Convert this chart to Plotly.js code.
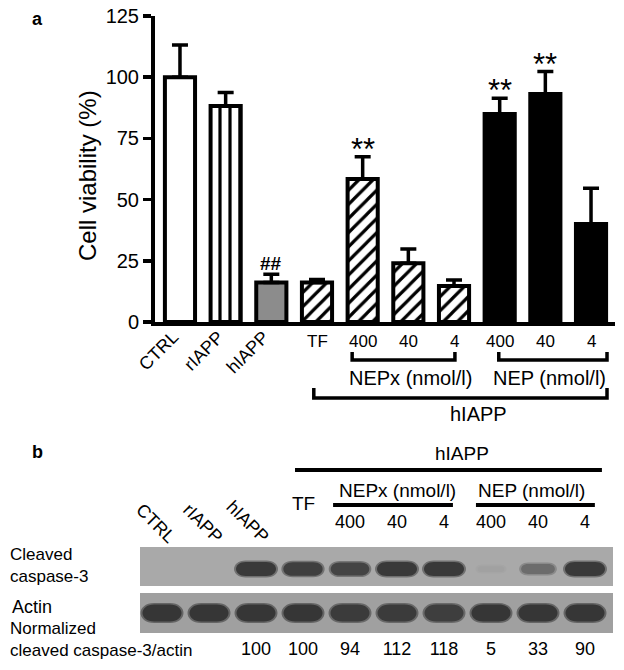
<!DOCTYPE html>
<html>
<head>
<meta charset="utf-8">
<script src="https://cdn.plot.ly/plotly-3.0.1.min.js"></script>
<style>
  body { margin: 0; background: #fff; }
  #chart { width: 624px; height: 670px; }
</style>
</head>
<body>
<div id="chart"></div>
<script>
// panel a: cell viability
const groups = ['CTRL', 'rIAPP', 'hIAPP', 'TF', '400', '40', '4', '400', '40', '4']
const viability = [100, 88.2, 16.1, 16.1, 58.4, 24.0, 14.7, 85.0, 93.1, 40.0]
const semUp = [13.2, 5.6, 3.4, 1.3, 9.1, 5.8, 2.5, 6.4, 9.2, 14.6]
const marks = ['', '', '##', '', '**', '', '', '**', '**', '']

// panel b: western blot
const lanes = ['CTRL', 'rIAPP', 'hIAPP', 'TF', '400', '40', '4', '400', '40', '4']
const caspaseBand = [0, 0, 1, 0.95, 0.9, 1, 1, 0.07, 0.55, 1]
const actinBand = [1, 1, 1, 1, 0.95, 0.95, 0.92, 1, 1, 1]
const normalized = [null, null, 100, 100, 94, 112, 118, 5, 33, 90]

// bar styles: which bars share a look
const styles = [
    { bars: [0], color: 'white', hatch: '' },
    { bars: [1], color: 'white', hatch: '|' },
    { bars: [2], color: '#8c8c8c', hatch: '' },
    { bars: [3, 4, 5, 6], color: 'white', hatch: '/' },
    { bars: [7, 8, 9], color: 'black', hatch: '' },
]

const W = 624, H = 670
const py = v => 1 - v / H
const LANE = 47 // px between blot lanes
const font = 'Liberation Sans, Arial, sans-serif'

function mix(a, b, t) {
    const pa = [1, 3, 5].map(i => parseInt(a.substr(i, 2), 16))
    const pb = [1, 3, 5].map(i => parseInt(b.substr(i, 2), 16))
    const c = pa.map((v, i) => Math.round(v + (pb[i] - v) * t))
    return `rgb(${c.join(',')})`
}

function capsule(xc, yc, hw, hh) {
    const r = Math.min(hh * 1.4 / LANE, hw)
    const x0 = xc - hw, x1 = xc + hw, y0 = yc - hh, y1 = yc + hh
    const k = r / 3
    return `M${x0 + r},${y0} L${x1 - r},${y0} C${x1 + k},${y0} ${x1 + k},${y1} ${x1 - r},${y1} ` +
        `L${x0 + r},${y1} C${x0 - k},${y1} ${x0 - k},${y0} ${x0 + r},${y0} Z`
}

const traces = styles.map(s => ({
    type: 'bar',
    x: s.bars,
    y: s.bars.map(i => viability[i]),
    xaxis: 'x', yaxis: 'y',
    marker: {
        color: s.color,
        line: { color: 'black', width: 4 },
        pattern: s.hatch ? { shape: s.hatch, fgcolor: 'black', bgcolor: 'white', size: 10, solidity: 0.32, fillmode: 'replace' } : { shape: '' }
    },
    error_y: {
        type: 'data', symmetric: false,
        array: s.bars.map(i => semUp[i]), arrayminus: s.bars.map(() => 0),
        color: 'black', thickness: 3.5, width: 8
    },
    hoverinfo: 'skip'
}))

const laneIdx = lanes.map((_, i) => i).filter(i => normalized[i] !== null)
traces.push({
    type: 'scatter', mode: 'text',
    x: laneIdx, y: laneIdx.map(() => 650),
    text: laneIdx.map(i => String(normalized[i])),
    textfont: { size: 18, color: 'black' },
    xaxis: 'x2', yaxis: 'y2',
    hoverinfo: 'skip'
})

const shapes = []
const annotations = []

// brackets under panel a
function bracket(a, b, yTop, yLine, ref) {
    shapes.push({
        type: 'path', xref: ref, yref: 'paper',
        path: `M${a},${py(yTop)} L${a},${py(yLine)} L${b},${py(yLine)} L${b},${py(yTop)}`,
        line: { color: 'black', width: 3.5 }
    })
}
bracket(3.77, 6.02, 352, 360, 'x')
bracket(6.98, 9.35, 352, 360, 'x')
bracket(2.93, 9.35, 388, 398, 'x')

// blot header lines
function hline(a, b, y) {
    shapes.push({ type: 'line', xref: 'x2', yref: 'y2', x0: a, x1: b, y0: y, y1: y, line: { color: 'black', width: 4 } })
}
hline(2.83, 9.36, 470)
hline(3.64, 6.19, 505)
hline(6.68, 9.21, 505)

// blot strips
const blotL = (140 - 162) / LANE, blotR = (613 - 162) / LANE
const casBg = '#a9a9a9', actBg = '#a0a0a0', dark = '#2a2a2a'
shapes.push({ type: 'rect', xref: 'x2', yref: 'y2', x0: blotL, x1: blotR, y0: 547, y1: 586, fillcolor: casBg, line: { width: 0 }, layer: 'below' })
shapes.push({ type: 'rect', xref: 'x2', yref: 'y2', x0: blotL, x1: blotR, y0: 593, y1: 633, fillcolor: actBg, line: { width: 0 }, layer: 'below' })

caspaseBand.forEach((t, i) => {
    if (!t) return
    const hw = (13 + 7 * t) / LANE, hh = 2.5 + 4.5 * t
    shapes.push({ type: 'path', xref: 'x2', yref: 'y2', path: capsule(i, 569, hw + 2 / LANE, hh + 1.5), fillcolor: mix(casBg, dark, 0.45 * t), line: { width: 0 } })
    shapes.push({ type: 'path', xref: 'x2', yref: 'y2', path: capsule(i, 569, hw, hh), fillcolor: mix(casBg, dark, 0.88 * t), line: { width: 0 } })
})
actinBand.forEach((t, i) => {
    const hw = 19.5 / LANE, hh = 8.5
    shapes.push({ type: 'path', xref: 'x2', yref: 'y2', path: capsule(i, 613, hw + 2 / LANE, hh + 1.5), fillcolor: mix(actBg, dark, 0.5 * t), line: { width: 0 } })
    shapes.push({ type: 'path', xref: 'x2', yref: 'y2', path: capsule(i, 613, hw, hh), fillcolor: mix(actBg, dark, 0.9 * t), line: { width: 0 } })
})

function note(text, x, y, opts) {
    annotations.push(Object.assign({
        text: text, x: x, y: y, xref: 'paper', yref: 'paper', showarrow: false,
        xanchor: 'center', yanchor: 'middle', font: { size: 18, color: 'black' }
    }, opts || {}))
}

// panel a texts
note('<b>a</b>', 37 / W, py(19), { font: { size: 18 } })
note('Cell viability (%)', 87 / W, py(176), { textangle: -90, font: { size: 24 } })
marks.forEach((m, i) => {
    if (!m) return
    const star = m === '**'
    note(star ? m : '<b>' + m + '</b>', i, viability[i] + semUp[i] + (star ? 3 : 4.5),
        { xref: 'x', yref: 'y', font: { size: star ? 31 : 19 } })
})
groups.forEach((g, i) => {
    if (i < 3) {
        note(g, i + 0.1, py(324), { xref: 'x', textangle: -45, xanchor: 'right', yanchor: 'top', font: { size: 18 } })
    } else {
        note(g, i, py(341), { xref: 'x', font: { size: 17 } })
    }
})
note('NEPx (nmol/l)', 5.04, py(378), { xref: 'x', font: { size: 20 } })
note('NEP (nmol/l)', 8.1, py(378), { xref: 'x', font: { size: 20 } })
note('hIAPP', 6.53, py(414), { xref: 'x', font: { size: 20 } })

// panel b texts
note('<b>b</b>', 37 / W, py(452), { font: { size: 18 } })
note('hIAPP', 6.38, 453, { xref: 'x2', yref: 'y2', font: { size: 19 } })
note('NEPx (nmol/l)', 5.0, 490, { xref: 'x2', yref: 'y2', font: { size: 19 } })
note('NEP (nmol/l)', 7.87, 490, { xref: 'x2', yref: 'y2', font: { size: 19 } })
lanes.forEach((l, i) => {
    if (i < 3) {
        note(l, i + 0.42, 550, { xref: 'x2', yref: 'y2', textangle: 45, xanchor: 'right', yanchor: 'bottom', font: { size: 18 } })
    } else if (i === 3) {
        note(l, i, 503, { xref: 'x2', yref: 'y2', font: { size: 19 } })
    } else {
        note(l, i, 522, { xref: 'x2', yref: 'y2', font: { size: 18 } })
    }
})
note('Cleaved<br>caspase-3', 8 / W, py(565), { xanchor: 'left', align: 'left', font: { size: 17 } })
note('Actin', 10 / W, py(607), { xanchor: 'left' })
note('Normalized<br>cleaved caspase-3/actin', 8 / W, py(639), { xanchor: 'left', align: 'left', font: { size: 17 } })

const layout = {
    width: W, height: H,
    margin: { l: 0, r: 0, t: 0, b: 0 },
    paper_bgcolor: 'white', plot_bgcolor: 'rgba(0,0,0,0)',
    font: { family: font, color: 'black' },
    showlegend: false,
    barmode: 'overlay',
    bargap: 0.34,
    xaxis: {
        domain: [155 / W, 615 / W], range: [-0.547, 9.525], anchor: 'y',
        showticklabels: false, ticks: '', showgrid: false, zeroline: false,
        showline: true, linecolor: 'black', linewidth: 4
    },
    yaxis: {
        domain: [py(322), py(16)], range: [0, 125], anchor: 'x',
        tickvals: [0, 25, 50, 75, 100, 125], ticks: 'outside', ticklen: 8, tickwidth: 3.5, tickcolor: 'black',
        tickfont: { size: 20 }, showgrid: false, zeroline: false,
        showline: true, linecolor: 'black', linewidth: 4
    },
    xaxis2: { domain: [0, 1], range: [-162 / LANE, (W - 162) / LANE], anchor: 'y2', visible: false },
    yaxis2: { domain: [0, 1], range: [H, 0], anchor: 'x2', visible: false },
    shapes: shapes,
    annotations: annotations
}

Plotly.newPlot('chart', traces, layout, { displayModeBar: false, staticPlot: true })
</script>
</body>
</html>
